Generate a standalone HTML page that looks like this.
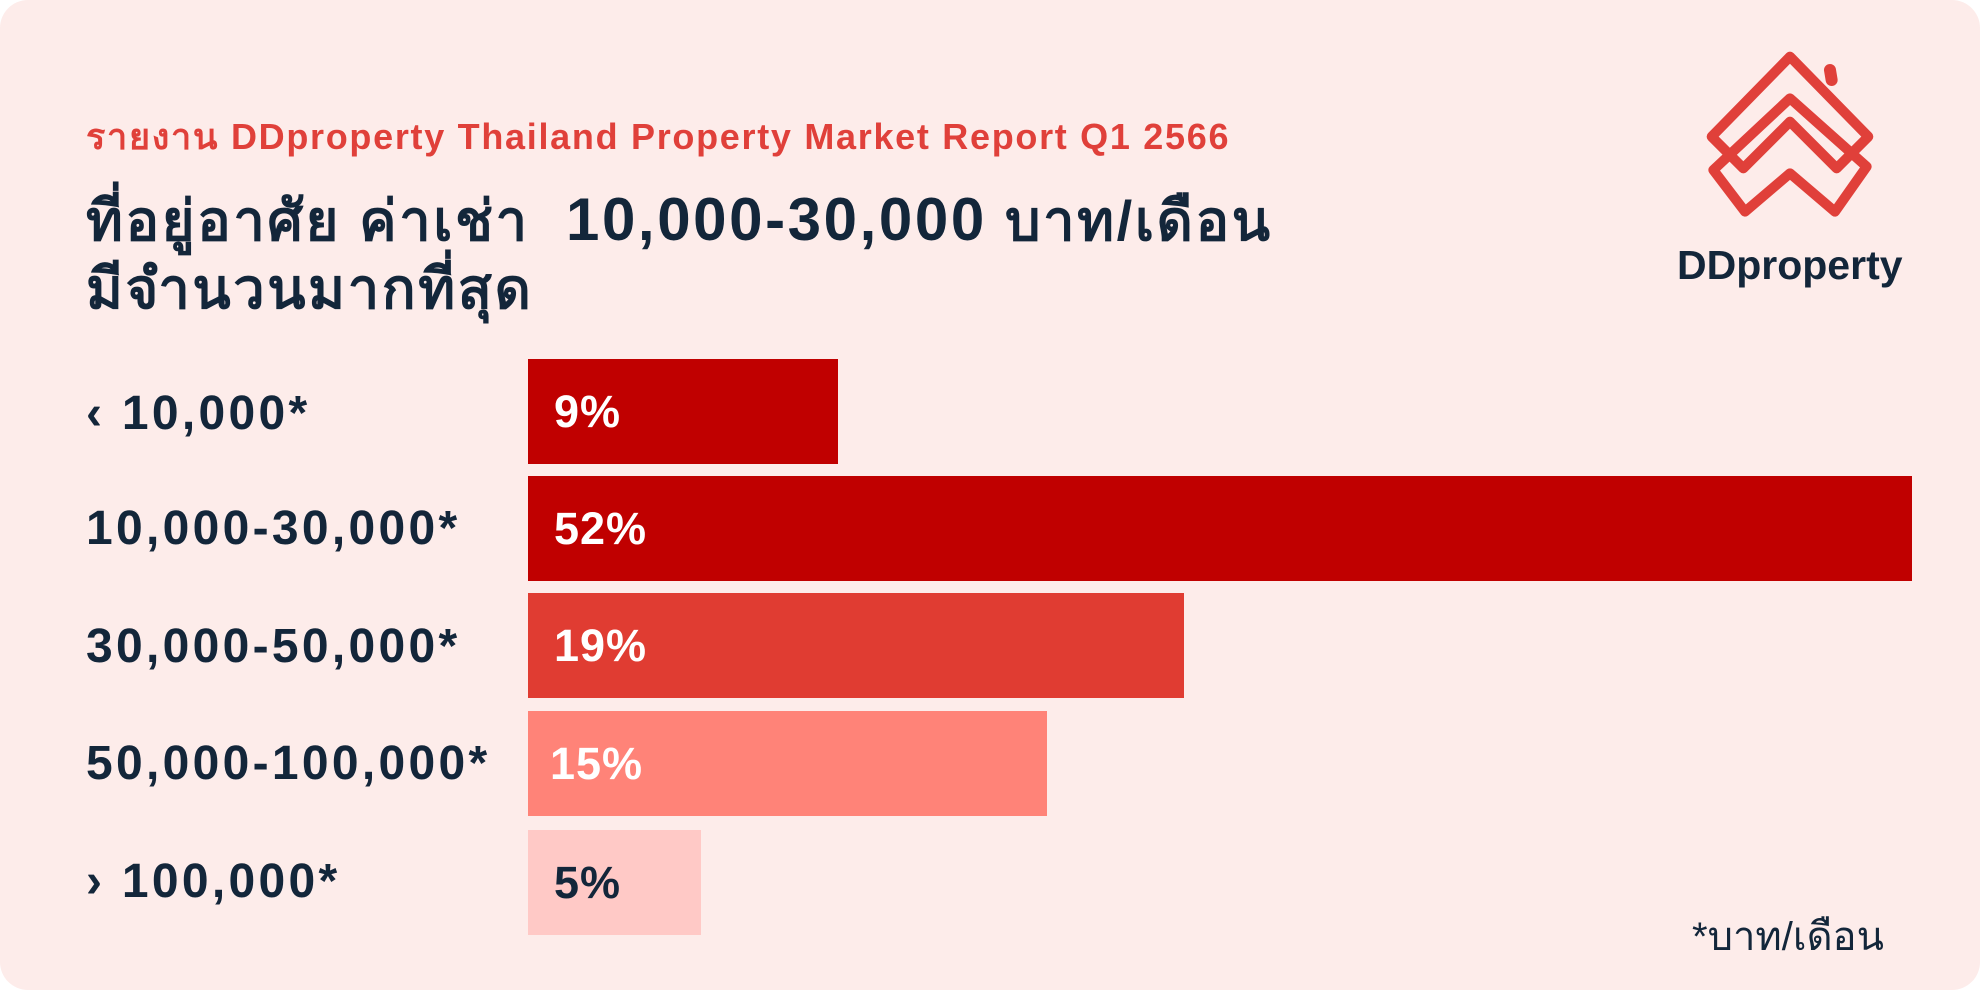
<!DOCTYPE html>
<html><head><meta charset="utf-8"><style>
html,body{margin:0;padding:0;width:1980px;height:990px;overflow:hidden;background:#fff;}
#c{position:absolute;left:0;top:0;width:1980px;height:990px;background:#fdecea;border-radius:28px;font-family:"Liberation Sans","DejaVu Sans",sans-serif;}
.t{position:absolute;white-space:nowrap;}
.lab{position:absolute;left:86px;font-weight:bold;font-size:48px;letter-spacing:3.3px;color:#13263a;line-height:1;}
.bar{position:absolute;left:528px;height:105px;}
.pct{position:absolute;left:26px;top:0;line-height:105px;font-weight:bold;font-size:45px;letter-spacing:1px;color:#fff;}
</style></head><body><div id="c">
<div class="t" style="left:86px;top:108px;font-size:36px;letter-spacing:1.7px;font-weight:bold;color:#e0403a;">รายงาน DDproperty Thailand Property Market Report Q1 2566</div>
<div class="t" style="left:86px;top:186px;font-size:56px;letter-spacing:2.6px;font-weight:bold;color:#13263a;line-height:68px;">ที่อยู่อาศัย ค่าเช่า &nbsp;<span style="font-size:60px">10,000-30,000</span> บาท/เดือน<br>มีจำนวนมากที่สุด</div>

<svg style="position:absolute;left:0;top:0" width="1980" height="990">
<g transform="translate(1650,30) scale(0.3333)" fill="none" stroke="#e0403a" stroke-width="30" stroke-linejoin="round" stroke-linecap="round">
<path d="M420 80 L655 320 L560 415 L420 275 L280 415 L185 320 Z"/>
<path d="M420 205 L650 410 L555 545 L420 430 L285 545 L190 420 Z"/>
<path d="M540 120 L545 150" stroke-width="36"/>
</g>
</svg>
<div class="t" style="left:1677px;top:242px;font-size:41px;font-weight:bold;color:#13263a;">DDproperty</div>

<div class="lab" style="top:390px;">‹ 10,000*</div>
<div class="lab" style="top:505px;">10,000-30,000*</div>
<div class="lab" style="top:623px;">30,000-50,000*</div>
<div class="lab" style="top:740px;">50,000-100,000*</div>
<div class="lab" style="top:858px;">› 100,000*</div>

<div class="bar" style="top:359px;width:310px;background:#c00000;"><span class="pct">9%</span></div>
<div class="bar" style="top:476px;width:1384px;background:#c00000;"><span class="pct">52%</span></div>
<div class="bar" style="top:593px;width:656px;background:#e03c32;"><span class="pct">19%</span></div>
<div class="bar" style="top:711px;width:519px;background:#ff8378;"><span class="pct" style="left:22px">15%</span></div>
<div class="bar" style="top:830px;width:173px;background:#ffc9c6;"><span class="pct" style="color:#13263a">5%</span></div>

<div class="t" style="left:1692px;top:904px;font-size:40px;color:#13263a;">*บาท/เดือน</div>
</div></body></html>
